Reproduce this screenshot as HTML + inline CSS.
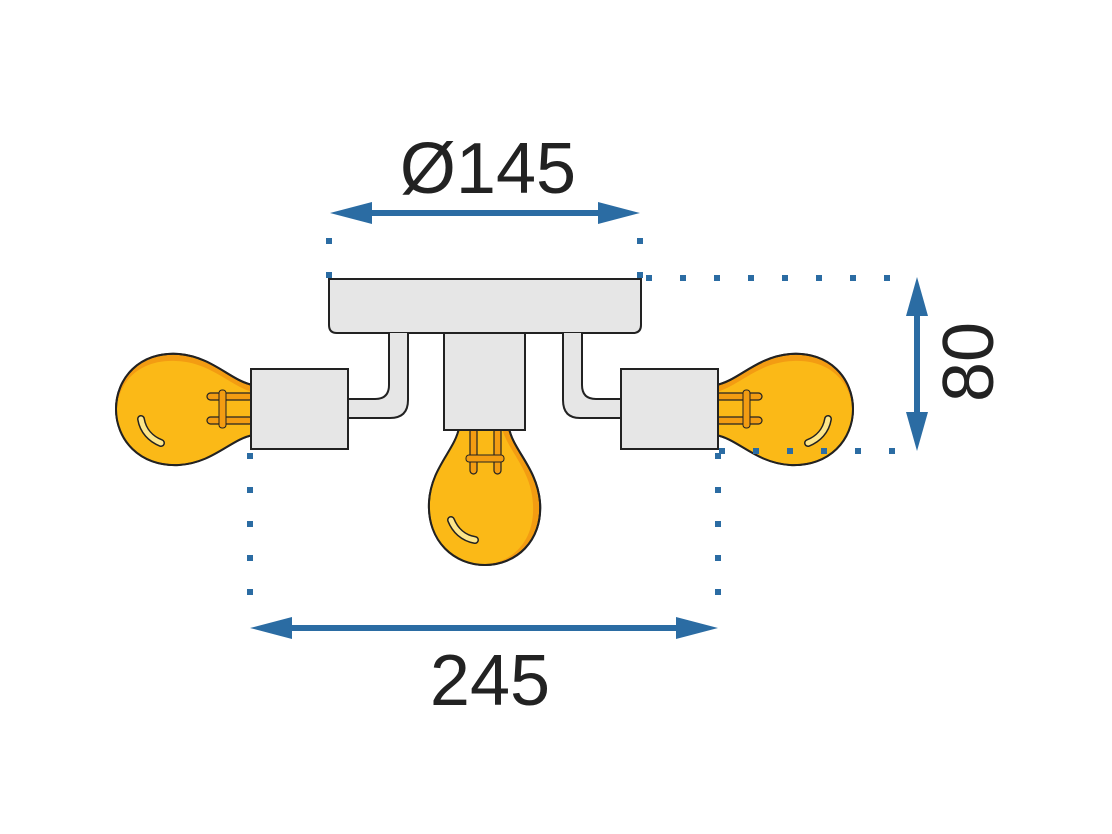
<!DOCTYPE html>
<html><head><meta charset="utf-8"><style>
html,body{margin:0;padding:0;background:#fff;}
svg{display:block;}
</style></head><body>
<svg width="1112" height="834" viewBox="0 0 1112 834" xmlns="http://www.w3.org/2000/svg">
<defs>
<g id="bulbL">
 <path d="M2 -24 C-20 -28,-38 -52,-72 -55 C-112 -58,-135 -30,-135 0 C-135 30,-112 58,-72 56 C-38 54,-20 30,2 26 Z" fill="#f39c12" stroke="#222" stroke-width="2"/>
 <path d="M2 -17 C-20 -22,-40 -47,-75 -48 C-112 -50,-134 -26,-134 2 C-134 30,-112 57,-72 55 C-38 53,-20 30,2 26 Z" fill="#fbb917"/>
 <path d="M2 -24 C-20 -28,-38 -52,-72 -55 C-112 -58,-135 -30,-135 0 C-135 30,-112 58,-72 56 C-38 54,-20 30,2 26 Z" fill="none" stroke="#222" stroke-width="2"/>
 <rect x="-44" y="-16" width="46" height="7" rx="3.5" fill="#f39c12" stroke="#222" stroke-width="1.2"/>
 <rect x="-44" y="8" width="46" height="7" rx="3.5" fill="#f39c12" stroke="#222" stroke-width="1.2"/>
 <rect x="-32" y="-19" width="7" height="38" rx="3" fill="#f39c12" stroke="#222" stroke-width="1"/>
 <path d="M-110 10 C-108 22,-100 30,-90 34" fill="none" stroke="#222" stroke-width="8" stroke-linecap="round"/>
 <path d="M-110 10 C-108 22,-100 30,-90 34" fill="none" stroke="#fde68a" stroke-width="5" stroke-linecap="round"/>
</g>
</defs>

<use href="#bulbL" transform="translate(251,409)"/>
<use href="#bulbL" transform="translate(718,409) scale(-1,1)"/>
<use href="#bulbL" transform="translate(485,430) rotate(-90) scale(1,-1)"/>

<path d="M329 279 H641 V325 Q641 333 633 333 H337 Q329 333 329 325 Z" fill="#e6e6e6" stroke="#222" stroke-width="2"/>
<path d="M389 333 V385 Q389 399 375 399 H348 V418 H390 Q408 418 408 400 V333" fill="#e6e6e6" stroke="#222" stroke-width="2"/>
<path d="M582 333 V385 Q582 399 596 399 H622 V418 H580 Q563 418 563 400 V333" fill="#e6e6e6" stroke="#222" stroke-width="2"/>
<rect x="251" y="369" width="97" height="80" fill="#e6e6e6" stroke="#222" stroke-width="2"/>
<rect x="621" y="369" width="97" height="80" fill="#e6e6e6" stroke="#222" stroke-width="2"/>
<rect x="444" y="333" width="81" height="97" fill="#e6e6e6" stroke="#222" stroke-width="2"/>

<g stroke="#2b6ca3" stroke-width="6" stroke-dasharray="6 28" fill="none">
 <line x1="329" y1="238" x2="329" y2="280"/>
 <line x1="640" y1="238" x2="640" y2="280"/>
 <line x1="646" y1="278" x2="912" y2="278"/>
 <line x1="719" y1="451" x2="912" y2="451"/>
 <line x1="250" y1="453" x2="250" y2="600"/>
 <line x1="718" y1="453" x2="718" y2="600"/>
</g>

<g fill="#2b6ca3">
 <rect x="368" y="210" width="234" height="6"/>
 <polygon points="330,213 372,202 372,224"/>
 <polygon points="640,213 598,202 598,224"/>
 <rect x="288" y="625" width="392" height="6"/>
 <polygon points="250,628 292,617 292,639"/>
 <polygon points="718,628 676,617 676,639"/>
 <rect x="914" y="312" width="6" height="106"/>
 <polygon points="917,277 906,316 928,316"/>
 <polygon points="917,451 906,412 928,412"/>
</g>

<g font-family="Liberation Sans, sans-serif" font-size="72" fill="#222" text-anchor="middle">
 <text x="488" y="193">Ø145</text>
 <text x="490" y="705">245</text>
 <text x="0" y="0" transform="translate(993,362) rotate(-90)">80</text>
</g>
</svg>
</body></html>
